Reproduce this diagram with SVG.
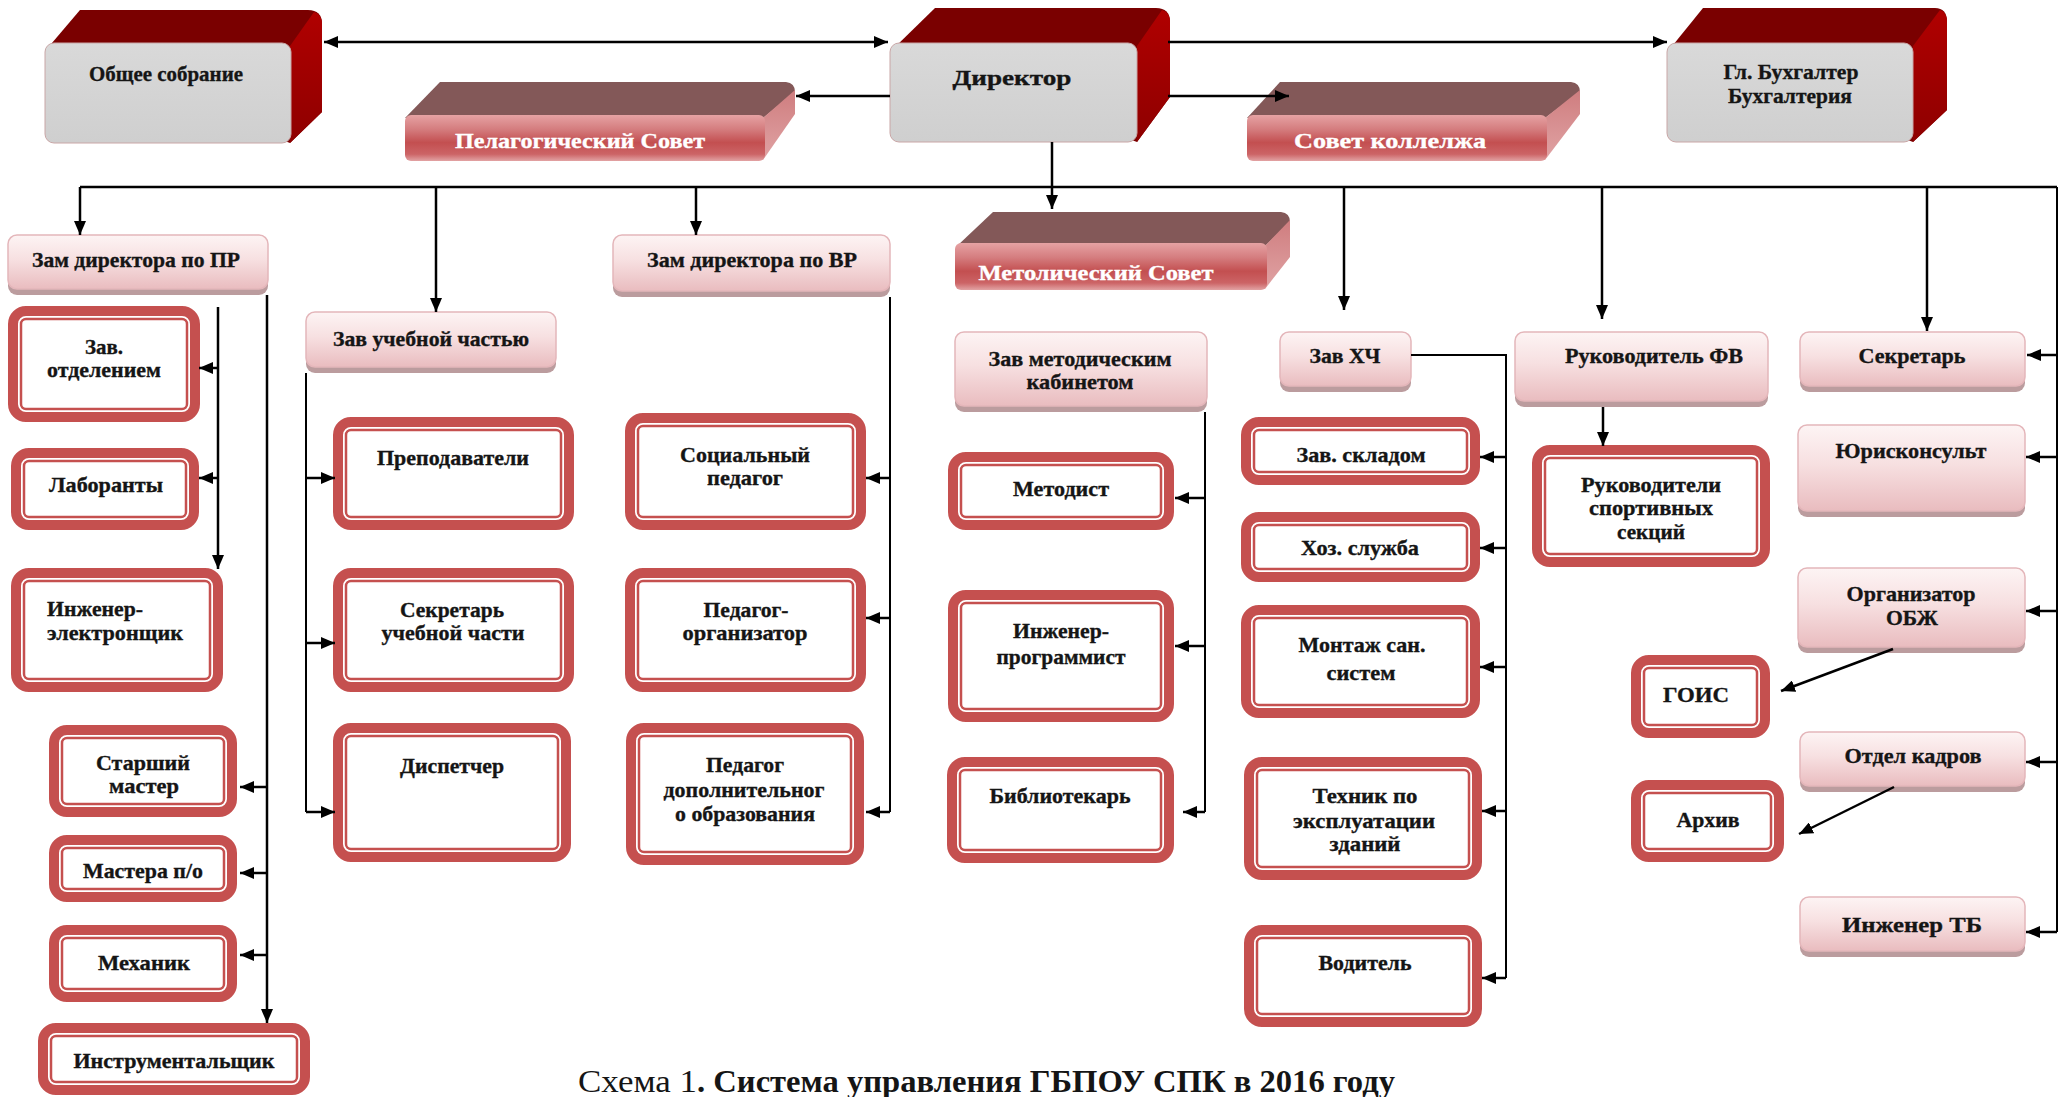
<svg xmlns="http://www.w3.org/2000/svg" width="2060" height="1097" viewBox="0 0 2060 1097">
<defs>
<style>
.t{font-family:"Liberation Serif","Times New Roman",serif;font-weight:bold;font-size:22px;fill:#151515;stroke:#151515;stroke-width:0.35;text-anchor:middle}
.tw{fill:#fff;stroke:#fff;font-size:22px}
.wo{fill:#fff;stroke:#c5504f;stroke-width:10}
.wi{fill:none;stroke:#c5504f;stroke-width:2.5}
.ps{fill:#bb9c9e}
.pf{fill:url(#pk);stroke:#e4b6ba;stroke-width:1.5}
.ln{fill:none;stroke:#000;stroke-width:2.5}
.th{stroke-width:2}
.ar{marker-end:url(#ah)}
.gf{fill:url(#gr);stroke:#c9a6a6;stroke-width:1}
.rt{fill:#7a0000}
.rs{fill:url(#rs)}
.bt{fill:#835858}
.bs{fill:url(#bsd)}
.bf{fill:url(#bf)}
</style>
<marker id="ah" markerUnits="userSpaceOnUse" markerWidth="16" markerHeight="12" refX="14" refY="6" orient="auto-start-reverse">
<path d="M0,0 L14,6 L0,12 Z" fill="#000"/>
</marker>
<linearGradient id="pk" x1="0" y1="0" x2="0" y2="1">
<stop offset="0" stop-color="#fdf4f4"/><stop offset="0.45" stop-color="#f7e0e1"/><stop offset="1" stop-color="#e9bcbf"/>
</linearGradient>
<linearGradient id="gr" x1="0" y1="0" x2="0" y2="1">
<stop offset="0" stop-color="#d9d9d9"/><stop offset="1" stop-color="#cfcfcf"/>
</linearGradient>
<linearGradient id="rs" x1="0" y1="0" x2="0" y2="1">
<stop offset="0" stop-color="#b00000"/><stop offset="1" stop-color="#8e0000"/>
</linearGradient>
<linearGradient id="bf" x1="0" y1="0" x2="0" y2="1">
<stop offset="0" stop-color="#e6a2a3"/><stop offset="0.3" stop-color="#d57e80"/><stop offset="0.6" stop-color="#c34f50"/><stop offset="0.85" stop-color="#cc6466"/><stop offset="1" stop-color="#e2a3a4"/>
</linearGradient>
<linearGradient id="bsd" x1="0" y1="0" x2="0" y2="1">
<stop offset="0" stop-color="#cf7d7f"/><stop offset="1" stop-color="#e0a3a4"/>
</linearGradient>
</defs>

<!-- Top 3D blocks -->
<g id="obshee">
<path class="rt" d="M46,50 L80,10 L308,10 Q322,10 322,24 L322,112 L290,143 Z"/>
<path class="rs" d="M290,46 L314,12 Q322,14 322,24 L322,112 L290,143 Z"/>
<rect class="gf" x="45" y="43" width="246" height="100" rx="9"/>
<text class="t" x="166" y="81" font-size="20" textLength="154" lengthAdjust="spacingAndGlyphs">Общее собрание</text>
</g>
<g id="director">
<path class="rt" d="M892,50 L935,8 L1156,8 Q1170,8 1170,22 L1170,97 L1137,142 Z"/>
<path class="rs" d="M1137,46 L1162,10 Q1170,12 1170,22 L1170,97 L1137,142 Z"/>
<rect class="gf" x="890" y="43" width="247" height="99" rx="9"/>
<text class="t" x="1012" y="85" font-size="27" textLength="119" lengthAdjust="spacingAndGlyphs">Директор</text>
</g>
<g id="buh">
<path class="rt" d="M1669,50 L1703,8 L1935,8 Q1947,8 1947,22 L1947,110 L1913,142 Z"/>
<path class="rs" d="M1913,46 L1940,10 Q1947,12 1947,22 L1947,110 L1913,142 Z"/>
<rect class="gf" x="1667" y="43" width="246" height="99" rx="9"/>
<text class="t" x="1791" y="79" font-size="20" textLength="135" lengthAdjust="spacingAndGlyphs">Гл. Бухгалтер</text>
<text class="t" x="1790" y="103" font-size="20" textLength="124" lengthAdjust="spacingAndGlyphs">Бухгалтерия</text>
</g>

<!-- Bar blocks -->
<g id="pedsovet">
<path class="bt" d="M405,118 L440,82 L786,82 Q795,83 795,92 L763,118 Z"/>
<path class="bs" d="M763,118 L795,90 L795,114 L763,160 Z"/>
<rect class="bf" x="405" y="115" width="360" height="46" rx="6"/>
<text class="t tw" x="580" y="148" textLength="250" lengthAdjust="spacingAndGlyphs">Пелагогический Совет</text>
</g>
<g id="sovet">
<path class="bt" d="M1247,118 L1280,82 L1571,82 Q1580,83 1580,92 L1545,118 Z"/>
<path class="bs" d="M1545,118 L1580,90 L1580,114 L1545,160 Z"/>
<rect class="bf" x="1247" y="115" width="300" height="46" rx="6"/>
<text class="t tw" x="1390" y="148" textLength="192" lengthAdjust="spacingAndGlyphs">Совет коллелжа</text>
</g>
<g id="metsovet">
<path class="bt" d="M957,246 L993,212 L1281,212 Q1290,213 1290,222 L1265,246 Z"/>
<path class="bs" d="M1265,246 L1290,220 L1290,257 L1265,289 Z"/>
<rect class="bf" x="955" y="243" width="312" height="47" rx="6"/>
<text class="t tw" x="1096" y="280" textLength="235" lengthAdjust="spacingAndGlyphs">Метолический Совет</text>
</g>

<!-- Pink level nodes -->
<g id="zam-pr"><rect class="ps" x="8" y="239" width="260" height="56" rx="9"/><rect class="pf" x="8" y="235" width="260" height="54" rx="9"/>
<text class="t" x="136" y="267" textLength="208" lengthAdjust="spacingAndGlyphs">Зам директора по ПР</text></g>
<g id="zav-uch"><rect class="ps" x="306" y="316" width="250" height="57" rx="9"/><rect class="pf" x="306" y="312" width="250" height="55" rx="9"/>
<text class="t" x="431" y="346" textLength="196" lengthAdjust="spacingAndGlyphs">Зав учебной частью</text></g>
<g id="zam-vr"><rect class="ps" x="613" y="239" width="277" height="58" rx="9"/><rect class="pf" x="613" y="235" width="277" height="56" rx="9"/>
<text class="t" x="752" y="267" textLength="210" lengthAdjust="spacingAndGlyphs">Зам директора по ВР</text></g>
<g id="zav-met"><rect class="ps" x="955" y="336" width="252" height="76" rx="9"/><rect class="pf" x="955" y="332" width="252" height="74" rx="9"/>
<text class="t" x="1080" y="366" textLength="183" lengthAdjust="spacingAndGlyphs">Зав методическим</text>
<text class="t" x="1080" y="389" textLength="107" lengthAdjust="spacingAndGlyphs">кабинетом</text></g>
<g id="zav-hch"><rect class="ps" x="1280" y="336" width="131" height="56" rx="9"/><rect class="pf" x="1280" y="332" width="131" height="54" rx="9"/>
<text class="t" x="1345" y="363" textLength="71" lengthAdjust="spacingAndGlyphs">Зав ХЧ</text></g>
<g id="ruk-fv"><rect class="ps" x="1515" y="336" width="253" height="71" rx="9"/><rect class="pf" x="1515" y="332" width="253" height="69" rx="9"/>
<text class="t" x="1654" y="363" textLength="178" lengthAdjust="spacingAndGlyphs">Руководитель ФВ</text></g>
<g id="sekretar"><rect class="ps" x="1800" y="336" width="225" height="56" rx="9"/><rect class="pf" x="1800" y="332" width="225" height="54" rx="9"/>
<text class="t" x="1912" y="363" textLength="107" lengthAdjust="spacingAndGlyphs">Секретарь</text></g>
<g id="yurist"><rect class="ps" x="1798" y="429" width="227" height="88" rx="9"/><rect class="pf" x="1798" y="425" width="227" height="86" rx="9"/>
<text class="t" x="1911" y="458" textLength="151" lengthAdjust="spacingAndGlyphs">Юрисконсульт</text></g>
<g id="obzh"><rect class="ps" x="1798" y="572" width="227" height="81" rx="9"/><rect class="pf" x="1798" y="568" width="227" height="79" rx="9"/>
<text class="t" x="1911" y="601" textLength="129" lengthAdjust="spacingAndGlyphs">Организатор</text>
<text class="t" x="1912" y="625" textLength="52" lengthAdjust="spacingAndGlyphs">ОБЖ</text></g>
<g id="kadry"><rect class="ps" x="1800" y="736" width="225" height="56" rx="9"/><rect class="pf" x="1800" y="732" width="225" height="54" rx="9"/>
<text class="t" x="1913" y="763" textLength="137" lengthAdjust="spacingAndGlyphs">Отдел кадров</text></g>
<g id="ing-tb"><rect class="ps" x="1800" y="901" width="225" height="56" rx="9"/><rect class="pf" x="1800" y="897" width="225" height="54" rx="9"/>
<text class="t" x="1912" y="932" font-size="24" textLength="140" lengthAdjust="spacingAndGlyphs">Инженер ТБ</text></g>

<!-- White nodes -->
<g id="zav-otd"><rect class="wo" x="13" y="311" width="182" height="106" rx="13"/><rect class="wi" x="21" y="319" width="166" height="90" rx="5"/>
<text class="t" x="104" y="354" textLength="38" lengthAdjust="spacingAndGlyphs">Зав.</text>
<text class="t" x="104" y="377" textLength="114" lengthAdjust="spacingAndGlyphs">отделением</text></g>
<g id="laborant"><rect class="wo" x="16" y="453" width="178" height="72" rx="13"/><rect class="wi" x="24" y="461" width="162" height="56" rx="5"/>
<text class="t" x="106" y="492" textLength="114" lengthAdjust="spacingAndGlyphs">Лаборанты</text></g>
<g id="ing-el"><rect class="wo" x="16" y="573" width="202" height="114" rx="13"/><rect class="wi" x="24" y="581" width="186" height="98" rx="5"/>
<text class="t" x="47" y="616" style="text-anchor:start" textLength="96" lengthAdjust="spacingAndGlyphs">Инженер-</text>
<text class="t" x="47" y="640" style="text-anchor:start" textLength="136" lengthAdjust="spacingAndGlyphs">электронщик</text></g>
<g id="st-master"><rect class="wo" x="54" y="730" width="178" height="82" rx="13"/><rect class="wi" x="62" y="738" width="162" height="66" rx="5"/>
<text class="t" x="143" y="770" textLength="94" lengthAdjust="spacingAndGlyphs">Старший</text>
<text class="t" x="144" y="793" textLength="70" lengthAdjust="spacingAndGlyphs">мастер</text></g>
<g id="mastera"><rect class="wo" x="54" y="840" width="178" height="57" rx="13"/><rect class="wi" x="62" y="848" width="162" height="41" rx="5"/>
<text class="t" x="143" y="878" textLength="120" lengthAdjust="spacingAndGlyphs">Мастера п/о</text></g>
<g id="mehanik"><rect class="wo" x="54" y="930" width="178" height="67" rx="13"/><rect class="wi" x="62" y="938" width="162" height="51" rx="5"/>
<text class="t" x="144" y="970" textLength="92" lengthAdjust="spacingAndGlyphs">Механик</text></g>
<g id="instr"><rect class="wo" x="43" y="1028" width="262" height="62" rx="13"/><rect class="wi" x="51" y="1036" width="246" height="46" rx="5"/>
<text class="t" x="174" y="1068" textLength="201" lengthAdjust="spacingAndGlyphs">Инструментальщик</text></g>
<g id="prepod"><rect class="wo" x="338" y="422" width="231" height="103" rx="13"/><rect class="wi" x="346" y="430" width="215" height="87" rx="5"/>
<text class="t" x="453" y="465" textLength="152" lengthAdjust="spacingAndGlyphs">Преподаватели</text></g>
<g id="sekr-uch"><rect class="wo" x="338" y="573" width="231" height="114" rx="13"/><rect class="wi" x="346" y="581" width="215" height="98" rx="5"/>
<text class="t" x="452" y="617" textLength="104" lengthAdjust="spacingAndGlyphs">Секретарь</text>
<text class="t" x="453" y="640" textLength="143" lengthAdjust="spacingAndGlyphs">учебной части</text></g>
<g id="dispatch"><rect class="wo" x="338" y="728" width="228" height="129" rx="13"/><rect class="wi" x="346" y="736" width="212" height="113" rx="5"/>
<text class="t" x="452" y="773" textLength="104" lengthAdjust="spacingAndGlyphs">Диспетчер</text></g>
<g id="soc-ped"><rect class="wo" x="630" y="418" width="231" height="107" rx="13"/><rect class="wi" x="638" y="426" width="215" height="91" rx="5"/>
<text class="t" x="745" y="462" textLength="130" lengthAdjust="spacingAndGlyphs">Социальный</text>
<text class="t" x="745" y="485" textLength="76" lengthAdjust="spacingAndGlyphs">педагог</text></g>
<g id="ped-org"><rect class="wo" x="630" y="573" width="231" height="114" rx="13"/><rect class="wi" x="638" y="581" width="215" height="98" rx="5"/>
<text class="t" x="746" y="617" textLength="85" lengthAdjust="spacingAndGlyphs">Педагог-</text>
<text class="t" x="745" y="640" textLength="125" lengthAdjust="spacingAndGlyphs">организатор</text></g>
<g id="ped-dop"><rect class="wo" x="631" y="728" width="228" height="132" rx="13"/><rect class="wi" x="639" y="736" width="212" height="116" rx="5"/>
<text class="t" x="745" y="772" textLength="78" lengthAdjust="spacingAndGlyphs">Педагог</text>
<text class="t" x="744" y="797" textLength="161" lengthAdjust="spacingAndGlyphs">дополнительног</text>
<text class="t" x="745" y="821" textLength="140" lengthAdjust="spacingAndGlyphs">о образования</text></g>
<g id="metodist"><rect class="wo" x="953" y="457" width="216" height="68" rx="13"/><rect class="wi" x="961" y="465" width="200" height="52" rx="5"/>
<text class="t" x="1061" y="496" textLength="96" lengthAdjust="spacingAndGlyphs">Методист</text></g>
<g id="ing-prog"><rect class="wo" x="953" y="595" width="216" height="122" rx="13"/><rect class="wi" x="961" y="603" width="200" height="106" rx="5"/>
<text class="t" x="1061" y="638" textLength="96" lengthAdjust="spacingAndGlyphs">Инженер-</text>
<text class="t" x="1061" y="664" textLength="129" lengthAdjust="spacingAndGlyphs">программист</text></g>
<g id="biblio"><rect class="wo" x="952" y="762" width="217" height="96" rx="13"/><rect class="wi" x="960" y="770" width="201" height="80" rx="5"/>
<text class="t" x="1060" y="803" textLength="141" lengthAdjust="spacingAndGlyphs">Библиотекарь</text></g>
<g id="sklad"><rect class="wo" x="1246" y="422" width="229" height="58" rx="13"/><rect class="wi" x="1254" y="430" width="213" height="42" rx="5"/>
<text class="t" x="1361" y="462" textLength="129" lengthAdjust="spacingAndGlyphs">Зав. складом</text></g>
<g id="hoz"><rect class="wo" x="1246" y="517" width="229" height="60" rx="13"/><rect class="wi" x="1254" y="525" width="213" height="44" rx="5"/>
<text class="t" x="1360" y="555" textLength="118" lengthAdjust="spacingAndGlyphs">Хоз. служба</text></g>
<g id="montazh"><rect class="wo" x="1246" y="610" width="229" height="103" rx="13"/><rect class="wi" x="1254" y="618" width="213" height="87" rx="5"/>
<text class="t" x="1362" y="652" textLength="127" lengthAdjust="spacingAndGlyphs">Монтаж сан.</text>
<text class="t" x="1361" y="680" textLength="69" lengthAdjust="spacingAndGlyphs">систем</text></g>
<g id="tehnik"><rect class="wo" x="1249" y="762" width="228" height="113" rx="13"/><rect class="wi" x="1257" y="770" width="212" height="97" rx="5"/>
<text class="t" x="1365" y="803" textLength="105" lengthAdjust="spacingAndGlyphs">Техник по</text>
<text class="t" x="1364" y="828" textLength="142" lengthAdjust="spacingAndGlyphs">эксплуатации</text>
<text class="t" x="1365" y="851" textLength="71" lengthAdjust="spacingAndGlyphs">зданий</text></g>
<g id="voditel"><rect class="wo" x="1249" y="930" width="228" height="92" rx="13"/><rect class="wi" x="1257" y="938" width="212" height="76" rx="5"/>
<text class="t" x="1365" y="970" textLength="93" lengthAdjust="spacingAndGlyphs">Водитель</text></g>
<g id="ruk-sport"><rect class="wo" x="1537" y="450" width="228" height="112" rx="13"/><rect class="wi" x="1545" y="458" width="212" height="96" rx="5"/>
<text class="t" x="1651" y="492" textLength="140" lengthAdjust="spacingAndGlyphs">Руководители</text>
<text class="t" x="1651" y="515" textLength="124" lengthAdjust="spacingAndGlyphs">спортивных</text>
<text class="t" x="1651" y="539" textLength="68" lengthAdjust="spacingAndGlyphs">секций</text></g>
<g id="gois"><rect class="wo" x="1636" y="660" width="129" height="73" rx="13"/><rect class="wi" x="1644" y="668" width="113" height="57" rx="5"/>
<text class="t" x="1696" y="702" textLength="66" lengthAdjust="spacingAndGlyphs">ГОИС</text></g>
<g id="arhiv"><rect class="wo" x="1636" y="785" width="143" height="72" rx="13"/><rect class="wi" x="1644" y="793" width="127" height="56" rx="5"/>
<text class="t" x="1708" y="827" textLength="63" lengthAdjust="spacingAndGlyphs">Архив</text></g>

<!-- Connectors -->
<g id="connectors">
<path class="ln" d="M324,42 H888" marker-start="url(#ah)" marker-end="url(#ah)"/>
<path class="ln ar" d="M890,96 H796"/>
<path class="ln ar" d="M1168,96 H1289"/>
<path class="ln ar" d="M1168,42 H1667"/>
<path class="ln ar" d="M1052,142 V209"/>
<path class="ln" d="M80,187 H2057"/>
<path class="ln ar" d="M80,187 V235"/>
<path class="ln ar" d="M436,187 V312"/>
<path class="ln ar" d="M696,187 V235"/>
<path class="ln ar" d="M1344,187 V310"/>
<path class="ln ar" d="M1602,187 V319"/>
<path class="ln ar" d="M1927,187 V331"/>
<path class="ln th" d="M2057,187 V932"/>
<path class="ln ar" d="M2057,355 H2027"/>
<path class="ln ar" d="M2057,457 H2026"/>
<path class="ln ar" d="M2057,611 H2026"/>
<path class="ln ar" d="M2057,762 H2026"/>
<path class="ln ar" d="M2057,932 H2026"/>
<path class="ln ar" d="M218,307 V569"/>
<path class="ln ar" d="M218,368 H199"/>
<path class="ln ar" d="M218,478 H199"/>
<path class="ln ar" d="M267,295 V1023"/>
<path class="ln ar" d="M267,787 H240"/>
<path class="ln ar" d="M267,873 H240"/>
<path class="ln ar" d="M267,955 H240"/>
<path class="ln th" d="M306,373 V812"/>
<path class="ln ar" d="M306,478 H335"/>
<path class="ln ar" d="M306,643 H335"/>
<path class="ln ar" d="M306,812 H335"/>
<path class="ln th" d="M890,297 V812"/>
<path class="ln ar" d="M890,478 H866"/>
<path class="ln ar" d="M890,618 H866"/>
<path class="ln ar" d="M890,812 H866"/>
<path class="ln th" d="M1205,412 V812"/>
<path class="ln ar" d="M1205,498 H1175"/>
<path class="ln ar" d="M1205,646 H1175"/>
<path class="ln ar" d="M1205,812 H1183"/>
<path class="ln th" d="M1411,355 H1506 V978"/>
<path class="ln ar" d="M1506,457 H1480"/>
<path class="ln ar" d="M1506,548 H1480"/>
<path class="ln ar" d="M1506,667 H1480"/>
<path class="ln ar" d="M1506,811 H1482"/>
<path class="ln ar" d="M1506,978 H1482"/>
<path class="ln ar" d="M1603,407 V446"/>
<path class="ln ar" d="M1893,649 L1781,691"/>
<path class="ln ar" d="M1894,787 L1799,834"/>
</g>

<!-- Caption -->
<text x="578" y="1092" style="font-family:'Liberation Serif','Times New Roman',serif;font-size:31px;fill:#151515" textLength="119" lengthAdjust="spacingAndGlyphs">Схема 1</text>
<text x="697" y="1092" style="font-family:'Liberation Serif','Times New Roman',serif;font-size:31px;font-weight:bold;fill:#151515" textLength="698" lengthAdjust="spacingAndGlyphs">. Система управления ГБПОУ СПК в 2016 году</text>
</svg>
